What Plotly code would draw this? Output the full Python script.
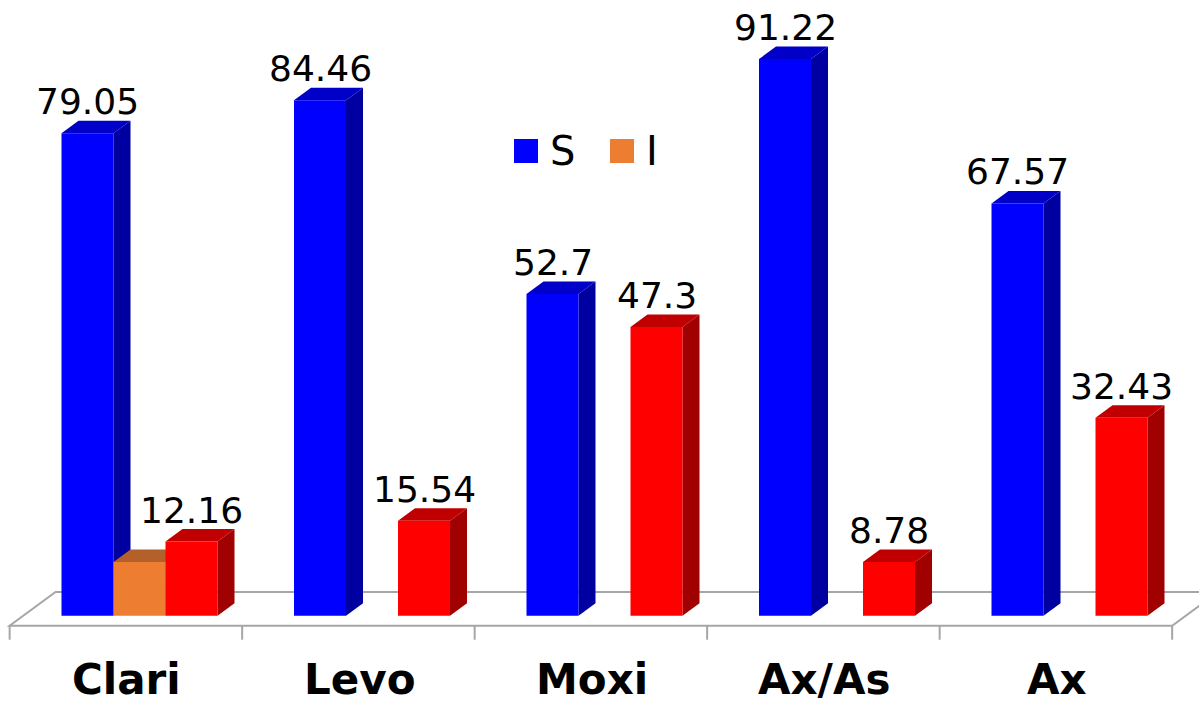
import plotly.graph_objects as go

# ---- data -------------------------------------------------------------
categories = ["Clari", "Levo", "Moxi", "Ax/As", "Ax"]
series_names = ["S", "I", "R"]
s_values = [79.05, 84.46, 52.7, 91.22, 67.57]
i_values = [8.79, 0, 0, 0, 0]
r_values = [12.16, 15.54, 47.3, 8.78, 32.43]
show_labels = [True, False, True]

# ---- styling ----------------------------------------------------------
W, H = 1199, 705
front_colors = ["#0000FF", "#ED7D31", "#FF0000"]
top_colors = ["#0000C8", "#B4602A", "#C00000"]
side_colors = ["#0000A0", "#9A5024", "#A00000"]
floor_color = "#A6A6A6"

# pixel geometry of the axes (bar plane)
PX_PER_X = 232.5
X0_PX = 139.5
PX_PER_Y = 6.102
BASE_PX = 615.7

x_range = [-X0_PX / PX_PER_X, (W - X0_PX) / PX_PER_X]
y_range = [-(H - BASE_PX) / PX_PER_Y, BASE_PX / PX_PER_Y]

# depth vector of the 3-D effect, in data units
DX = 17 / PX_PER_X
DY = 12.5 / PX_PER_Y
BW = 52 / PX_PER_X
offsets = [-1.5 * BW, -0.5 * BW, 0.5 * BW]

all_values = [s_values, i_values, r_values]
xpos = list(range(len(categories)))

fig = go.Figure()
for k, (name, vals) in enumerate(zip(series_names, all_values)):
    fig.add_trace(go.Bar(
        x=xpos, y=vals, name=name, width=BW, offset=offsets[k],
        marker=dict(color=front_colors[k], line=dict(width=0)),
        showlegend=False, hoverinfo="skip",
    ))

shapes = []

# floor parallelogram (front edge at depth -0.8, back edge at depth +1.9)
fl_x0, fl_x1 = -0.5, len(categories) - 0.5
fd, bd = -0.8, 1.9
front_left = (fl_x0 + fd * DX, fd * DY)
front_right = (fl_x1 + fd * DX, fd * DY)
back_left = (fl_x0 + bd * DX, bd * DY)
back_right = (fl_x1 + bd * DX, bd * DY)
shapes.append(dict(
    type="path", xref="x", yref="y", layer="below",
    path=(f"M{front_left[0]},{front_left[1]} L{front_right[0]},{front_right[1]} "
          f"L{back_right[0]},{back_right[1]} L{back_left[0]},{back_left[1]} Z"),
    line=dict(color=floor_color, width=2), fillcolor="white",
))
# tick marks under the front edge of the floor
tick_len = 14 / PX_PER_Y
for b in range(len(categories) + 1):
    tx = b - 0.5 + fd * DX
    shapes.append(dict(
        type="line", xref="x", yref="y", layer="below",
        x0=tx, x1=tx, y0=fd * DY, y1=fd * DY - tick_len,
        line=dict(color=floor_color, width=2),
    ))

# side and top faces of each bar
annotations = []
for i in xpos:
    for k, vals in enumerate(all_values):
        v = vals[i]
        if v <= 0:
            continue
        x0 = i + offsets[k]
        x1 = x0 + BW
        shapes.append(dict(
            type="path", xref="x", yref="y", layer="below",
            path=f"M{x1},0 L{x1 + DX},{DY} L{x1 + DX},{v + DY} L{x1},{v} Z",
            fillcolor=side_colors[k], line=dict(width=0),
        ))
        shapes.append(dict(
            type="path", xref="x", yref="y", layer="below",
            path=f"M{x0},{v} L{x1},{v} L{x1 + DX},{v + DY} L{x0 + DX},{v + DY} Z",
            fillcolor=top_colors[k], line=dict(width=0),
        ))
        if show_labels[k]:
            annotations.append(dict(
                x=(x0 + x1) / 2, y=v, xref="x", yref="y",
                text=f"{v:g}", showarrow=False, yanchor="bottom", yshift=9,
                font=dict(family="DejaVu Sans", size=36, color="black"),
            ))

# category labels below the floor
for i, c in enumerate(categories):
    annotations.append(dict(
        x=i, xref="x", xshift=-13, y=0, yref="paper",
        text=f"<b>{c}</b>", showarrow=False, yanchor="bottom", borderpad=0,
        font=dict(family="DejaVu Sans", size=42, color="black"),
    ))

# legend (S and I only)
legend_items = [("S", front_colors[0], 514), ("I", front_colors[1], 610)]
for label, color, lx in legend_items:
    shapes.append(dict(
        type="rect", xref="paper", yref="paper",
        x0=lx / W, x1=(lx + 24) / W, y0=1 - 163 / H, y1=1 - 139 / H,
        fillcolor=color, line=dict(width=0),
    ))
    annotations.append(dict(
        x=(lx + 34) / W, xref="paper", y=1 - 151 / H, yref="paper",
        text=label, showarrow=False, xanchor="left", yanchor="middle",
        font=dict(family="DejaVu Sans", size=40, color="black"),
    ))

fig.update_layout(
    width=W, height=H,
    margin=dict(l=0, r=0, t=0, b=0),
    paper_bgcolor="white", plot_bgcolor="white",
    barmode="overlay",
    showlegend=False,
    xaxis=dict(range=x_range, visible=False, showgrid=False, zeroline=False),
    yaxis=dict(range=y_range, visible=False, showgrid=False, zeroline=False),
    shapes=shapes,
    annotations=annotations,
)

fig.write_html("out.html")
